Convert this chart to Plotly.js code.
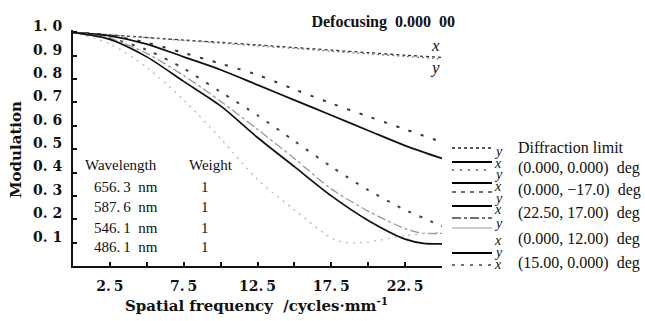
<!DOCTYPE html>
<html>
<head>
<meta charset="utf-8">
<script src="https://cdn.plot.ly/plotly-3.0.1.min.js"></script>
<style>html,body{margin:0;padding:0;background:#fff;}#chart{width:645px;height:321px;}</style>
</head>
<body>
<div id="chart"></div>
<script>
// ---- data ----
const freq = [0, 2.5, 5, 7.5, 10, 12.5, 15, 17.5, 20, 22.5, 25];
const diffX = [1.0, 0.989, 0.978, 0.967, 0.957, 0.946, 0.935, 0.924, 0.913, 0.902, 0.893];
const diffY = [1.0, 0.989, 0.977, 0.965, 0.954, 0.942, 0.931, 0.919, 0.908, 0.897, 0.886];
const f00x = [1.0, 0.985, 0.95, 0.895, 0.84, 0.775, 0.71, 0.645, 0.58, 0.515, 0.46];
const f00y = [1.0, 0.986, 0.956, 0.912, 0.866, 0.818, 0.756, 0.696, 0.64, 0.585, 0.53];
const freqB = [0, 2.5, 5, 7.5, 10, 12.5, 15, 17.5, 20, 22.5, 23.75, 25];
const f017x = [1.0, 0.97, 0.895, 0.79, 0.685, 0.55, 0.425, 0.30, 0.195, 0.115, 0.097, 0.095];
const f017y = [1.0, 0.975, 0.925, 0.845, 0.745, 0.645, 0.535, 0.425, 0.325, 0.24, 0.205, 0.17];
const f2217y = [1.0, 0.975, 0.91, 0.815, 0.705, 0.585, 0.46, 0.33, 0.235, 0.16, 0.14, 0.14];
const freqC = [0, 2.5, 5, 7.5, 10, 12.5, 15, 17.5, 18.5, 20, 22.5, 25];
const f012x = [1.0, 0.95, 0.85, 0.71, 0.545, 0.37, 0.24, 0.12, 0.10, 0.103, 0.13, 0.145];

const yTicks = [0.1, 0.2, 0.3, 0.4, 0.5, 0.6, 0.7, 0.8, 0.9, 1.0];
const yTickText = ['0. 1', '0. 2', '0. 3', '0. 4', '0. 5', '0. 6', '0. 7', '0. 8', '0. 9', '1. 0'];
const xTicks = [2.5, 5, 7.5, 10, 12.5, 15, 17.5, 20, 22.5, 25];
const xTickText = ['2.\u20095', ' ', '7.\u20095', ' ', '12.\u20095', ' ', '17.\u20095', ' ', '22.\u20095', ' '];

const legendLabels = ['Diffraction limit', '(0.000,\u00a00.000)\u00a0 deg', '(0.000,\u00a0\u221217.0)\u00a0 deg',
  '(22.50,\u00a017.00)\u00a0 deg', '(0.000,\u00a012.00)\u00a0 deg', '(15.00,\u00a00.000)\u00a0 deg'];
const wavelengths = ['656.\u20093\u00a0 nm', '587.\u20096\u00a0 nm', '546.\u20091\u00a0 nm', '486.\u20091\u00a0 nm'];
const weights = ['1', '1', '1', '1'];

// ---- layout helpers (pixel -> paper) ----
const L = 73, R = 442, T = 30, B = 266;
const px = x => (x - L) / (R - L);
const py = y => (B - y) / (B - T);

function tr(x, y, dash, color, width) {
  return {x: x, y: y, type: 'scatter', mode: 'lines', line: {dash: dash, color: color, width: width, shape: 'spline', smoothing: 0.8}, hoverinfo: 'skip'};
}
const traces = [
  tr(freq, diffX, 'dot', '#333', 1.3),
  tr(freq, diffY, '2px,3px', '#777', 1.2),
  tr(freq, f00y, '3px,10px', '#333', 2),
  tr(freq, f00x, 'solid', '#111', 1.8),
  tr(freqB, f017y, '3px,9px', '#444', 2),
  tr(freqB, f2217y, 'dashdot', '#999', 1.3),
  tr(freqC, f012x, '2px,5px', '#bbb', 1.4),
  tr(freqB, f017x, 'solid', '#111', 1.7)
];

const serif = 'Liberation Serif, Times New Roman, serif';
const dserif = 'DejaVu Serif, serif';
const ann = [];
function addText(text, x, y, opts) {
  ann.push(Object.assign({text: text, x: px(x), y: py(y), xref: 'paper', yref: 'paper', showarrow: false,
    xanchor: 'left', yanchor: 'middle', font: {family: serif, size: 15, color: '#111'}}, opts || {}));
}
// x / y markers near the diffraction curves
addText('<i>x</i>', 435, 45, {xanchor: 'center', font: {family: serif, size: 17, color: '#111'}});
addText('<i>y</i>', 435, 67, {xanchor: 'center', font: {family: serif, size: 17, color: '#111'}});
// wavelength table
addText('Wavelength', 83, 165, {font: {family: serif, size: 15, color: '#111'}});
addText('Weight', 187, 165, {font: {family: serif, size: 15, color: '#111'}});
const rowY = [187, 207, 228, 247];
wavelengths.forEach((w, i) => {
  addText(w, 92, rowY[i]);
  addText(weights[i], 205, rowY[i], {xanchor: 'center'});
});
// legend labels
const labY = [147, 168, 190, 213, 239, 263];
legendLabels.forEach((t, i) => addText(t, 516, labY[i], {font: {family: serif, size: 16, color: '#111'}}));
const letters = [['y', 151], ['x', 163], ['y', 175], ['x', 186], ['y', 198], ['x', 209], ['y', 223], ['x', 240], ['y', 252], ['x', 264]];
letters.forEach(l => addText('<i>' + l[0] + '</i>', 498, l[1], {xanchor: 'center', font: {family: serif, size: 14, color: '#111'}}));
// y axis title
ann.push({text: '<b>Modulation</b>', x: px(16), y: py(150), xref: 'paper', yref: 'paper', showarrow: false,
  textangle: -90, xanchor: 'center', yanchor: 'middle', font: {family: dserif, size: 15, color: '#111'}});
// x axis title
ann.push({text: '<b>Spatial frequency \u00a0/cycles\u00b7mm<sup>-1</sup></b>', x: px(256), y: py(305), xref: 'paper', yref: 'paper', showarrow: false,
  xanchor: 'center', yanchor: 'middle', font: {family: dserif, size: 15, color: '#111'}});

const swatches = [[148, 'dot', '#222', 1.5], [162, 'solid', '#000', 2], [170, '2px,6px', '#555', 1.5], [183, 'solid', '#000', 2],
  [192, '4px,5px', '#444', 1.5], [206, 'solid', '#000', 2], [218, 'dashdot', '#444', 1.5], [228, 'solid', '#bbb', 1.5],
  [253, 'solid', '#000', 2], [265, '3px,6px', '#444', 1.5]];
const shapes = swatches.map(s => ({type: 'line', xref: 'paper', yref: 'paper', x0: px(452), x1: px(492), y0: py(s[0]), y1: py(s[0]),
  line: {dash: s[1], color: s[2], width: s[3]}}));

const layout = {
  width: 645, height: 321,
  margin: {l: L, r: 645 - R, t: T, b: 321 - B},
  paper_bgcolor: '#fff', plot_bgcolor: '#fff',
  showlegend: false,
  title: {text: '<b>Defocusing\u00a0 0.000\u00a0 00</b>', x: 455 / 645, xanchor: 'right', xref: 'container',
    y: 1 - 21 / 321, yanchor: 'middle', yref: 'container', font: {family: serif, size: 16, color: '#111'}},
  xaxis: {range: [0, 25], showgrid: false, zeroline: false, showline: true, linewidth: 2, linecolor: '#111',
    ticks: 'inside', ticklen: 4, tickwidth: 2, tickcolor: '#111', tickvals: xTicks, ticktext: xTickText,
    tickfont: {family: dserif, size: 14, color: '#111', weight: 'bold'}, ticklabelstandoff: 6, fixedrange: true},
  yaxis: {range: [0, 1.01], showgrid: false, zeroline: false, showline: true, linewidth: 2, linecolor: '#111',
    ticks: 'inside', ticklen: 4, tickwidth: 2, tickcolor: '#111', tickvals: yTicks, ticktext: yTickText,
    tickfont: {family: dserif, size: 14, color: '#111', weight: 'bold'}, ticklabelshift: -6, ticklabelstandoff: 6, fixedrange: true},
  annotations: ann,
  shapes: shapes
};
Plotly.newPlot('chart', traces, layout, {displayModeBar: false, staticPlot: true});
</script>
</body>
</html>
